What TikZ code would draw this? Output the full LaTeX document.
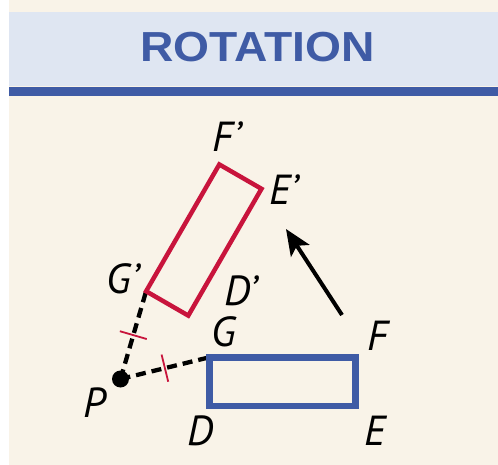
\documentclass[tikz,border=0pt]{standalone}
\usepackage{fontspec}
\setsansfont{PT Sans}
\newfontfamily\titlefont{Liberation Sans}
\usetikzlibrary{calc,arrows.meta}
\definecolor{cream}{RGB}{249,243,232}
\definecolor{paleblue}{RGB}{223,230,242}
\definecolor{deepblue}{RGB}{63,91,165}
\definecolor{crimson}{RGB}{200,20,60}
\begin{document}
\begin{tikzpicture}[x=1pt,y=-1pt,
  lbl/.style={font=\fontsize{42}{42}\selectfont\sffamily\itshape, anchor=base, inner sep=0pt},
  dashln/.style={line width=4.3pt, dash pattern=on 10pt off 6pt, black},
  tick/.style={line width=1.8pt, crimson},
  blueframe/.style={line width=6.5pt, deepblue},
  redframe/.style={line width=4.5pt, crimson, line join=miter}]
\useasboundingbox (0,0) rectangle (498,465);
\fill[white] (0,0) rectangle (498,465);
\fill[cream] (9,0) rectangle (498,465);
\fill[paleblue] (9,12) rectangle (498,86.5);
\fill[deepblue] (9,87) rectangle (498,96);
\node[font=\fontsize{42}{42}\selectfont\titlefont\bfseries, text=deepblue, anchor=base, inner sep=0pt, xscale=1.1] (title) at (257.5,62) {ROTATION};

% points
\coordinate (P) at (120.5,379);
\coordinate (G) at (209.3,357.3);
\coordinate (F) at (355.7,357.3);
\coordinate (E) at (355.7,406);
\coordinate (D) at (209.3,406);
\coordinate (G') at ($(P)!1!60:(G)$);
\coordinate (F') at ($(P)!1!60:(F)$);
\coordinate (E') at ($(P)!1!60:(E)$);
\coordinate (D') at ($(P)!1!60:(D)$);

% dashed segments
\draw[dashln] (P) -- (G);
\draw[dashln] (P) -- (G');
% tick marks
\draw[tick] ($($(P)!0.5!(G)$)!14pt!90:(G)$) -- ($($(P)!0.5!(G)$)!14pt!-90:(G)$);
\draw[tick] ($($(P)!0.5!(G')$)!14pt!90:(G')$) -- ($($(P)!0.5!(G')$)!14pt!-90:(G')$);

% rectangles
\draw[blueframe] (G) -- (F) -- (E) -- (D) -- cycle;
\draw[redframe] (G') -- (F') -- (E') -- (D') -- cycle;

% centre of rotation
\fill[black] (P) circle (8.5pt);

% arrow
\coordinate (A1) at (342,315);
\coordinate (A2) at (286,229);
\draw[line width=4pt, -{Stealth[length=26pt,width=22pt,inset=6pt]}] (A1) -- (A2);

% labels
\node[lbl] (lF') at (227,152) {F'};
\node[lbl] (lE') at (284,205) {E'};
\node[lbl] (lG') at (123,293) {G'};
\node[lbl] (lD') at (241,305) {D'};
\node[lbl] (lG) at (224,346) {G};
\node[lbl] (lF) at (378,350) {F};
\node[lbl] (lP) at (95,417) {P};
\node[lbl] (lD) at (201,445) {D};
\node[lbl] (lE) at (375,445) {E};
\end{tikzpicture}
\end{document}
